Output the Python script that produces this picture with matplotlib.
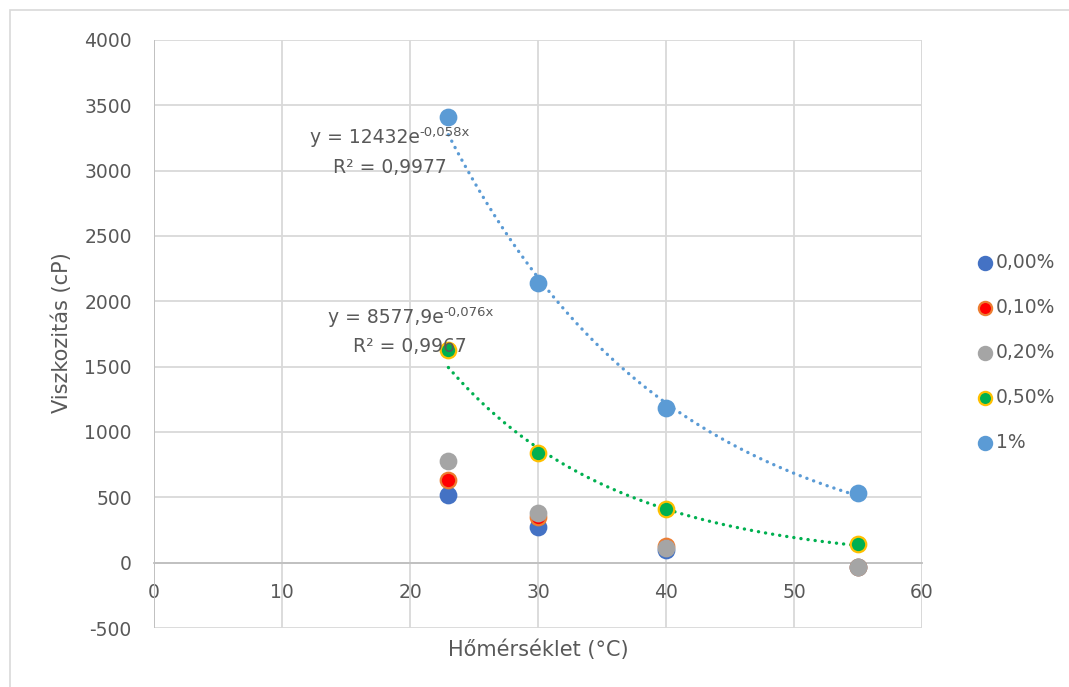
import numpy as np
import matplotlib
matplotlib.use("Agg")
import matplotlib.pyplot as plt
from matplotlib.patches import Rectangle
from matplotlib.transforms import IdentityTransform

plt.rcParams['font.family'] = ['DejaVu Sans']
plt.rcParams['axes.unicode_minus'] = False

# Temperatures (°C)
temps = [23, 30, 40, 55]

# Viscosity (cP) per additive concentration
visc_000 = [518, 271, 97, -30]
visc_010 = [633, 347, 128, -30]
visc_020 = [781, 378, 110, -30]
visc_050 = [1625, 837, 411, 143]
visc_1 = [3412, 2143, 1180, 535]

labels = ['0,00%', '0,10%', '0,20%', '0,50%', '1%']
face_colors = ['#4472C4', '#FF0000', '#A5A5A5', '#00B050', '#5B9BD5']
edge_colors = ['#4472C4', '#ED7D31', '#A5A5A5', '#FFC000', '#5B9BD5']

# Exponential trend lines y = a*exp(b*x)
fit_1 = (12432, -0.058)
fit_050 = (8577.9, -0.076)

x_ticks = [0, 10, 20, 30, 40, 50, 60]
y_ticks = [-500, 0, 500, 1000, 1500, 2000, 2500, 3000, 3500, 4000]

text_col = '#595959'
grid_col = '#D9D9D9'
FS = 13.5
FS_TITLE = 15

fig = plt.figure(figsize=(10.69, 6.87), dpi=100)
fig.patches.append(Rectangle((10 / 1069, -0.1), 1.2, 1 - 10 / 687 + 0.1,
                             transform=fig.transFigure, fill=False,
                             edgecolor=grid_col, linewidth=1.2, zorder=0))

ax = fig.add_axes([154 / 1069, 1 - 628 / 687, (922 - 154) / 1069, (628 - 40) / 687])
ax.set_xlim(0, 60)
ax.set_ylim(-500, 4000)
ax.set_xticks(x_ticks)
ax.set_yticks(y_ticks)
ax.grid(True, color=grid_col, linewidth=1.3, zorder=0)
ax.set_axisbelow(True)

for s in ['top', 'right', 'left']:
    ax.spines[s].set_visible(False)
ax.spines['bottom'].set_position(('data', 0))
ax.spines['bottom'].set_color('#BFBFBF')
ax.spines['bottom'].set_linewidth(1.3)
ax.axvline(60, color=grid_col, linewidth=1.3, zorder=0)
ax.axvline(0, color='#BFBFBF', linewidth=1.3, zorder=1)

ax.tick_params(axis='both', length=0, labelsize=FS, labelcolor=text_col)
ax.tick_params(axis='y', pad=16)
ax.tick_params(axis='x', pad=15)

# Trend lines (round dots)
xs = np.linspace(23, 55, 300)
dot_style = dict(linewidth=2.4, linestyle=(0, (0.05, 2.1)), dash_capstyle='round', zorder=2)
ax.plot(xs, fit_1[0] * np.exp(fit_1[1] * xs), color='#5B9BD5', **dot_style)
ax.plot(xs, fit_050[0] * np.exp(fit_050[1] * xs), color='#00B050', **dot_style)

series = [visc_000, visc_010, visc_020, visc_050, visc_1]
handles = []
for vals, lab, fc, ec in zip(series, labels, face_colors, edge_colors):
    h = ax.scatter(temps, vals, s=125, c=fc, edgecolors=ec, linewidths=1.6,
                   label=lab, zorder=3)
    handles.append(h)

ax.set_xlabel('Hőmérséklet (°C)', fontsize=FS_TITLE, color=text_col)
ax.xaxis.set_label_coords(0.5, 1 - (650 - 40) / 588)
ax.xaxis.label.set_va('center')
ax.set_ylabel('Viszkozitás (cP)', fontsize=FS_TITLE, color=text_col)
ax.yaxis.set_label_coords((62 - 154) / 768, 1 - (333 - 40) / 588)
ax.yaxis.label.set_va('center')

fig.legend(handles=handles, labels=labels, loc='upper left',
           bbox_to_anchor=(966 / 1069, 1 - 244 / 687), frameon=False,
           fontsize=FS, labelcolor=text_col, handletextpad=0.1,
           handlelength=1.0, labelspacing=1.38, borderpad=0,
           scatterpoints=1, markerscale=0.85)

# Trend line equations: base text plus raised exponent, centred as a group
eq_kw = dict(va='baseline', ha='left', color=text_col, zorder=4)
fig.canvas.draw()
renderer = fig.canvas.get_renderer()


def equation(xc, yb, base, exponent):
    t1 = ax.text(0, 0, base, fontsize=FS, **eq_kw)
    t2 = ax.text(0, 0, exponent, fontsize=9.5, **eq_kw)
    w1 = t1.get_window_extent(renderer).width
    w2 = t2.get_window_extent(renderer).width
    px, py = ax.transData.transform((xc, yb))
    x0 = px - (w1 + w2) / 2
    for t in (t1, t2):
        t.set_transform(IdentityTransform())
    t1.set_position((x0, py))
    t2.set_position((x0 + w1, py + 7))


def centred(xc, yb, s):
    ax.text(xc, yb, s, fontsize=FS, va='baseline', ha='center', color=text_col, zorder=4)


equation(18.44, 3211, 'y = 12432e', '-0,058x')
centred(18.44, 2981, 'R² = 0,9977')
equation(20.08, 1835, 'y = 8577,9e', '-0,076x')
centred(20.0, 1613, 'R² = 0,9967')

fig.savefig('out.png', dpi=100)
